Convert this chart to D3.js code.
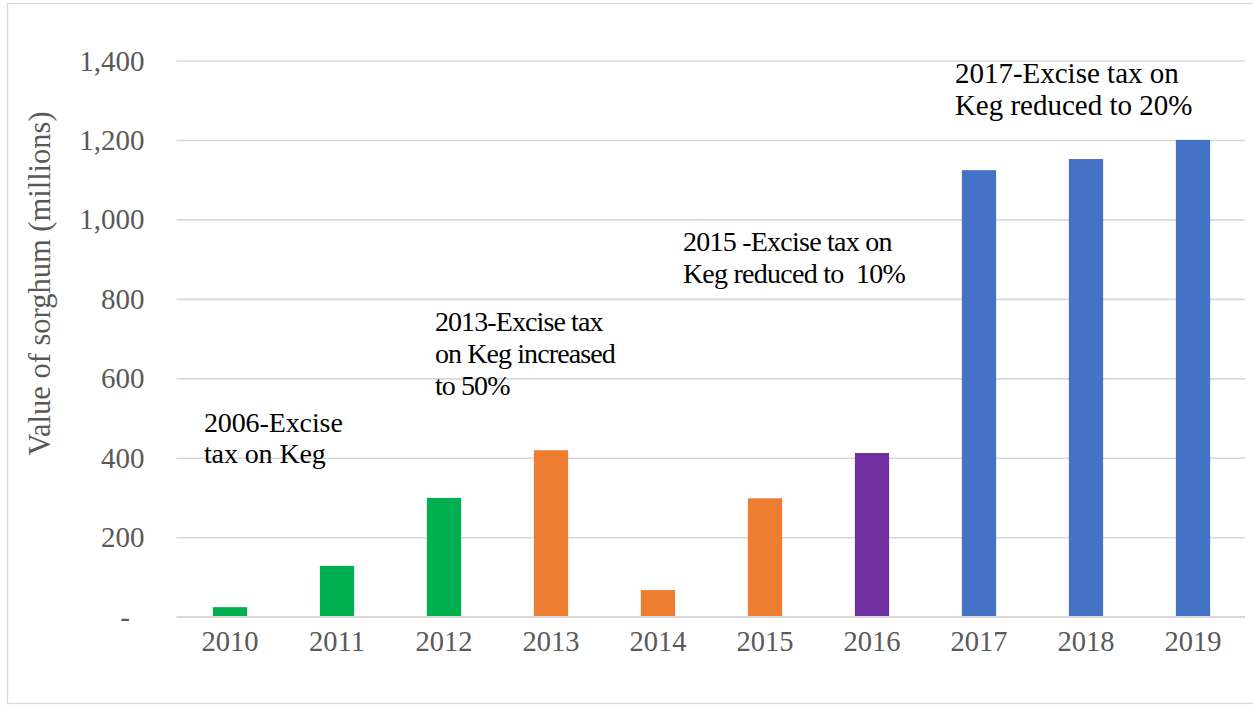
<!DOCTYPE html>
<html>
<head>
<meta charset="utf-8">
<script src="https://cdn.jsdelivr.net/npm/d3@7"></script>
<style>
  html, body { margin: 0; padding: 0; background: #fff; }
  svg { display: block; font-family: "Liberation Serif", "Times New Roman", serif; }
</style>
</head>
<body>
<svg id="chart" width="1253" height="705"></svg>
<script>
// Sorghum value by year, with excise-tax policy notes
const years = ["2010", "2011", "2012", "2013", "2014", "2015", "2016", "2017", "2018", "2019"];
const values = [24, 128, 299, 419, 67, 298, 412, 1124, 1152, 1200];
// tax regime group for each year
const regimes = ["g", "g", "g", "o", "o", "o", "p", "b", "b", "b"];
const yTicks = [0, 200, 400, 600, 800, 1000, 1200, 1400];
const yTitle = "Value of sorghum (millions)";

const noteLines = [
  ["2006-Excise", "tax on Keg"],
  ["2013-Excise tax", "on Keg increased", "to 50%"],
  ["2015 -Excise tax on", "Keg reduced to\u00A0 10%"],
  ["2017-Excise tax on", "Keg reduced to 20%"]
];
const noteYears = ["2010", "2012", "2014", "2017"];
const noteLevels = [466, 718, 920, 1343];

const regimeColor = { g: "#00B050", o: "#ED7D31", p: "#7030A0", b: "#4472C4" };
const SERIF = "'Liberation Serif', 'Times New Roman', serif";

const svg = d3.select("#chart");
const W = 1253;
const plot = { left: 176.5, right: 1246.5, top: 60.5, bottom: 616.7 };

// chart area outline
svg.append("rect")
  .attr("x", 7.5).attr("y", 3.5)
  .attr("width", W).attr("height", 700)
  .attr("fill", "#fff").attr("stroke", "#D9D9D9").attr("stroke-width", 1.3);

const x = d3.scaleBand()
  .domain(years)
  .range([plot.left, plot.right])
  .paddingInner(0.68)
  .paddingOuter(0.34);

const y = d3.scaleLinear()
  .domain([0, 1400])
  .range([plot.bottom, plot.top]);

// horizontal gridlines + tick labels
const yAxis = d3.axisLeft(y)
  .tickValues(yTicks)
  .tickSize(-(1245 - plot.left))
  .tickPadding(32)
  .tickFormat(d => d === 0 ? "-\u2007" : d3.format(",")(d));

const gy = svg.append("g")
  .attr("transform", `translate(${plot.left},0)`)
  .call(yAxis)
  .attr("font-family", SERIF);
gy.select(".domain").remove();
gy.selectAll(".tick line").attr("stroke", "#D9D9D9").attr("stroke-width", 1.6);
gy.selectAll(".tick text")
  .attr("fill", "#595959")
  .attr("font-size", 29)
  .attr("dy", "0.33em");

// category axis labels
const xAxis = d3.axisBottom(x).tickSize(0).tickPadding(34);
const gx = svg.append("g")
  .attr("transform", `translate(0,${plot.bottom})`)
  .call(xAxis)
  .attr("font-family", SERIF);
gx.select(".domain").remove();
gx.selectAll(".tick text")
  .attr("fill", "#595959")
  .attr("font-size", 28.5)
  .attr("dy", "0em");

// bars
svg.append("g")
  .selectAll("rect")
  .data(years)
  .join("rect")
  .attr("x", d => x(d))
  .attr("width", x.bandwidth())
  .attr("y", (d, i) => y(values[i]))
  .attr("height", (d, i) => y(0) - y(values[i]))
  .attr("fill", (d, i) => regimeColor[regimes[i]]);

// baseline over bars
svg.append("line")
  .attr("x1", plot.left).attr("x2", 1245)
  .attr("y1", y(0)).attr("y2", y(0))
  .attr("stroke", "#D9D9D9").attr("stroke-width", 1.6);

// y-axis title
svg.append("text")
  .attr("transform", `translate(49.5,${(112 + 455) / 2}) rotate(-90)`)
  .attr("text-anchor", "middle")
  .attr("font-family", SERIF)
  .attr("font-size", 30.5)
  .attr("fill", "#595959")
  .text(yTitle);

// policy notes (text boxes differ slightly in tracking)
const noteOffsets = [-9, 8, 42, -7];
const noteSizes = [28, 28, 28, 29];
const noteTracking = [-0.1, -0.9, -0.75, 0];
const noteLeading = [31, 31.6, 31.6, 31.7];
const notes = svg.append("g").attr("font-family", SERIF);
noteLines.forEach((lines, k) => {
  const x0 = x(noteYears[k]) + noteOffsets[k];
  const t = notes.append("text")
    .attr("x", x0)
    .attr("y", y(noteLevels[k]))
    .attr("font-size", noteSizes[k])
    .attr("letter-spacing", noteTracking[k])
    .attr("fill", "#000")
    .style("white-space", "pre");
  lines.forEach((ln, j) => {
    t.append("tspan")
      .attr("x", x0)
      .attr("dy", j === 0 ? 0 : noteLeading[k])
      .text(ln);
  });
});
</script>
</body>
</html>
